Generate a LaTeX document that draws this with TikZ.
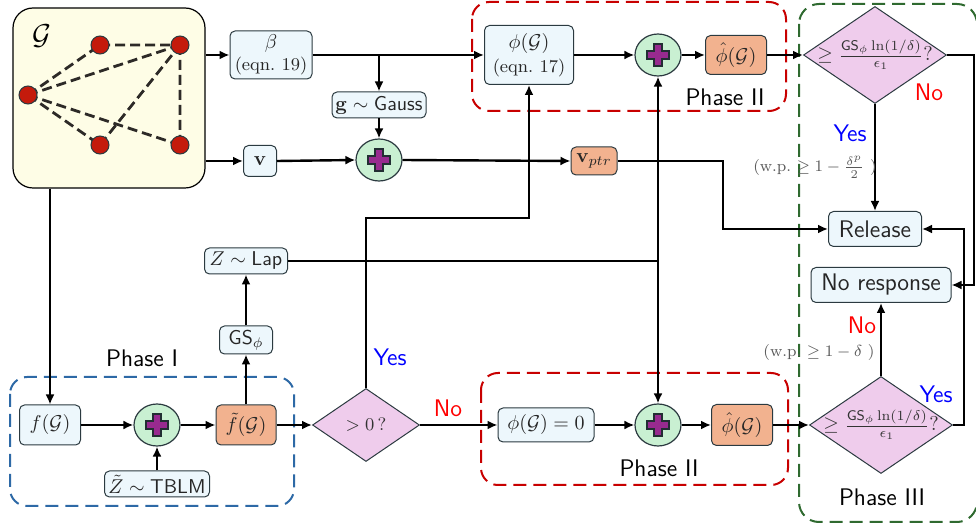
\documentclass[tikz,border=0pt]{standalone}
\usepackage{amsmath}
\usepackage{amssymb}
\usetikzlibrary{shapes.geometric,arrows.meta}

\definecolor{boxblue}{HTML}{EDF7FC}
\definecolor{boxorange}{HTML}{F2B28F}
\definecolor{plusgreen}{HTML}{C9F0D2}
\definecolor{crosspurple}{HTML}{982A8F}
\definecolor{diapink}{HTML}{EFCCEC}
\definecolor{graphyellow}{HTML}{FEFDE6}
\definecolor{vtxred}{HTML}{C41A0C}
\definecolor{edgegray}{HTML}{2B3A40}
\definecolor{phasered}{HTML}{C80000}
\definecolor{phaseblue}{HTML}{2D69A6}
\definecolor{phasegreen}{HTML}{2F6A30}

\begin{document}
\begin{tikzpicture}[x=0.5pt, y=-0.5pt, >={Latex[length=5pt,width=4.5pt]}, line width=1.2pt,
    blk/.style={draw=edgegray, line width=0.5pt, fill=boxblue, rounded corners=2.5pt, inner sep=0pt, align=center, text=black!85},
    oblk/.style={blk, fill=boxorange},
    adder/.style={ellipse, draw=edgegray, line width=0.6pt, fill=plusgreen, minimum width=23pt, minimum height=21pt, inner sep=0pt},
    plusmark/.style={draw=edgegray!80!black, line width=0.6pt, fill=crosspurple},
    decide/.style={diamond, draw=edgegray, line width=0.5pt, fill=diapink, inner sep=0pt, aspect=1.47, text=black!80},
    phase/.style={dash pattern=on 6.5pt off 3.5pt, line width=1pt, rounded corners=8.5pt},
    lbl/.style={font=\large\sffamily},
    yeslbl/.style={lbl, text=blue},
    nolbl/.style={lbl, text=red},
    wp/.style={font=\footnotesize, text=black!65},
    gedge/.style={dash pattern=on 5pt off 2.5pt, line width=1.4pt, draw=black!90!olive},
    vtx/.style={fill=vtxred, draw=edgegray, line width=0.5pt}]
    \useasboundingbox (0,0) rectangle (976,529);

    % phase frames
    \draw[phase, phaseblue] (10,377) rectangle (294,506);
    \draw[phase, phasered] (472,2) rectangle (786,111);
    \draw[phase, phasered] (481,373) rectangle (788,485);
    \draw[phase, phasegreen, rounded corners=10pt] (799,4) rectangle (977,522);
    \node[lbl] (ph1) at (142,358) {Phase I};
    \node[lbl] (ph2a) at (725,97) {Phase II};
    \node[lbl] (ph2b) at (659,468) {Phase II};
    \node[lbl] (ph3) at (882,497) {Phase III};

    % the graph
    \node[draw=black, line width=0.6pt, fill=graphyellow, rounded corners=10pt, minimum width=96pt, minimum height=90pt] (graph) at (109,98) {};
    \node (gname) at (42,36) {\Large$\mathcal{G}$};
    \coordinate (n1) at (100,45);
    \coordinate (n2) at (180,45);
    \coordinate (n3) at (28,95);
    \coordinate (n4) at (100,145);
    \coordinate (n5) at (180,145);
    \draw[gedge] (n1) -- (n2) (n3) -- (n1) (n3) -- (n2) (n3) -- (n4) (n3) -- (n5) (n4) -- (n2) (n2) -- (n5);
    \foreach \n in {n1,n2,n3,n4,n5}
        \draw[vtx] (\n) circle (4.5pt);

    % top rows
    \node[blk, minimum width=41pt, minimum height=24pt] (beta) at (271,55) {$\beta$\\[-1pt]{\small(eqn.~19)}};
    \node[blk, minimum width=16.5pt, minimum height=15.5pt] (v) at (260,161) {$\mathbf{v}$};
    \node[blk, minimum width=47pt, minimum height=13pt] (gauss) at (379,105) {$\mathbf{g}\sim\textsf{Gauss}$};
    \node[adder] (pg) at (379,160) {};
    \node[oblk, minimum width=23pt, minimum height=14pt] (vptr) at (594,161) {$\mathbf{v}_{ptr}$};
    \node[blk, minimum width=44.5pt, minimum height=29.5pt] (phi) at (529,55) {$\phi(\mathcal{G})$\\{\small(eqn.~17)}};
    \node[adder] (pphi) at (658,55) {};
    \node[oblk, minimum width=30.5pt, minimum height=19.5pt] (phihat) at (736,55) {$\hat{\phi}(\mathcal{G})$};
    \node[decide, minimum width=71.5pt, minimum height=48.5pt, inner sep=-2pt] (dtop) at (875,55) {$\geq \frac{\mathsf{GS}_\phi \ln(1/\delta)}{\epsilon_1}?$};
    \node[blk, minimum width=46.5pt, minimum height=17.5pt, font=\large\sffamily] (release) at (875,229) {Release};
    \node[blk, minimum width=70pt, minimum height=17.5pt, font=\large\sffamily] (noresp) at (881,285) {No response};

    % bottom row
    \node[blk, minimum width=30.5pt, minimum height=20pt] (f) at (50,425) {$f(\mathcal{G})$};
    \node[adder] (pz) at (157,425) {};
    \node[oblk, minimum width=30pt, minimum height=20pt] (ftilde) at (246,425) {$\tilde{f}(\mathcal{G})$};
    \node[blk, minimum width=52.5pt, minimum height=13pt] (tblm) at (157,484) {$\tilde{Z}\sim\textsf{TBLM}$};
    \node[blk, minimum width=26.5pt, minimum height=14pt] (gs) at (246,340) {$\textsf{GS}_\phi$};
    \node[blk, minimum width=41.5pt, minimum height=13pt] (lap) at (246,261) {$Z\sim\textsf{Lap}$};
    \node[decide, minimum width=53.5pt, minimum height=36.5pt, font=\small] (dzero) at (366,425) {$>0\,?$};
    \node[blk, minimum width=48pt, minimum height=17pt] (phizero) at (546,425) {$\phi(\mathcal{G})=0$};
    \node[adder] (pzero) at (658,425) {};
    \node[oblk, minimum width=30.5pt, minimum height=20.5pt] (phihatz) at (742,425) {$\hat{\phi}(\mathcal{G})$};
    \node[decide, minimum width=71.5pt, minimum height=48.5pt, inner sep=-2pt] (dbot) at (881,425) {$\geq \frac{\mathsf{GS}_\phi \ln(1/\delta)}{\epsilon_1}?$};

    \foreach \p in {pg,pphi,pz,pzero}
        \draw[plusmark] (\p) ++(-2pt,2pt) -- ++(0,3.5pt) -- ++(4pt,0) -- ++(0,-3.5pt) -- ++(3.5pt,0) -- ++(0,-4pt)
            -- ++(-3.5pt,0) -- ++(0,-3.5pt) -- ++(-4pt,0) -- ++(0,3.5pt) -- ++(-3.5pt,0) -- ++(0,4pt) -- cycle;

    % connectors
    \draw[->] (graph.east |- beta.west) -- (beta.west);
    \draw[->] (graph.east |- v.west) -- (v.west);
    \draw[->] (graph.south -| f.north) -- (f.north);
    \draw[->] (beta.east) -- (phi.west);
    \coordinate (gsplit) at (gauss |- beta);
    \draw[->] (gsplit) -- (gauss.north);
    \draw[->] (gauss.south) -- (pg.north);
    \draw[->] (v.east) -- (pg.west);
    \draw[->] (pg.east) -- (vptr.west);
    \coordinate (vbend) at (723,161);
    \draw[->] (vptr.east) -- (vbend) |- (release.west);
    \draw[->] (phi.east) -- (pphi.west);
    \draw[->] (pphi.east) -- (phihat.west);
    \draw[->] (phihat.east) -- (dtop.west);
    \draw[->] (dtop.south) -- (release.north);
    \coordinate (nobend) at (974,55);
    \draw[->] (dtop.east) -- (nobend) |- (noresp.east);

    \coordinate (lapsplit) at (pphi |- lap);
    \draw (lap.east) -- (lapsplit);
    \draw[->] (lapsplit) -- (pphi.south);
    \draw[->] (lapsplit) -- (pzero.north);
    \coordinate (yesbend) at (529,218);
    \draw[->] (dzero.north) |- (yesbend) -- (phi.south);

    \draw[->] (f.east) -- (pz.west);
    \draw[->] (pz.east) -- (ftilde.west);
    \draw[->] (ftilde.east) -- (dzero.west);
    \draw[->] (tblm.north) -- (pz.south);
    \draw[->] (ftilde.north) -- (gs.south);
    \draw[->] (gs.north) -- (lap.south);
    \draw[->] (dzero.east) -- (phizero.west);
    \draw[->] (phizero.east) -- (pzero.west);
    \draw[->] (pzero.east) -- (phihatz.west);
    \draw[->] (phihatz.east) -- (dbot.west);
    \draw[->] (dbot.north) -- (noresp.south);
    \coordinate (yesbendb) at (964,425);
    \draw[->] (dbot.east) -- (yesbendb) |- (release.east);

    % branch labels
    \node[yeslbl] (yes1) at (850,133) {Yes};
    \node[nolbl] (no1) at (929,92) {No};
    \node[wp] (wp1) at (815,167) {(w.p.~$\geq 1-\frac{\delta^p}{2}$~)};
    \node[nolbl] (no2) at (862,325) {No};
    \node[wp] (wp2) at (819,353) {(w.p.~$\geq 1-\delta$~)};
    \node[yeslbl] (yes2) at (936,394) {Yes};
    \node[yeslbl] (yes0) at (390,357) {Yes};
    \node[nolbl] (no0) at (448,408) {No};
\end{tikzpicture}
\end{document}
